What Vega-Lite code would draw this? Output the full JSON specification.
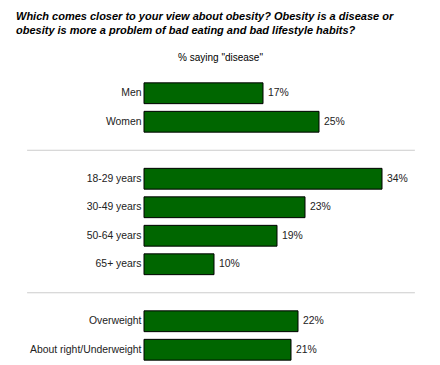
{
  "$schema": "https://vega.github.io/schema/vega-lite/v6.json",
  "width": 273,
  "height": 285,
  "autosize": {"type": "none"},
  "padding": {"left": 144, "top": 79, "right": 23, "bottom": 1},
  "background": "white",
  "config": {
    "view": {"stroke": null},
    "font": "Liberation Sans",
    "text": {"font": "Liberation Sans"}
  },
  "title": {
    "text": ["Which comes closer to your view about obesity? Obesity is a disease or", "obesity is more a problem of bad eating and bad lifestyle habits?"],
    "anchor": "start",
    "frame": "group",
    "dx": -128,
    "offset": 16,
    "font": "Liberation Sans",
    "fontSize": 11,
    "fontWeight": "bold",
    "fontStyle": "italic",
    "color": "#000000",
    "lineHeight": 14
  },
  "datasets": {
    "bars": [
      {"group": "Men", "pct": 17},
      {"group": "Women", "pct": 25},
      {"group": "18-29 years", "pct": 34},
      {"group": "30-49 years", "pct": 23},
      {"group": "50-64 years", "pct": 19},
      {"group": "65+ years", "pct": 10},
      {"group": "Overweight", "pct": 22},
      {"group": "About right/Underweight", "pct": 21}
    ],
    "seps": [
      {"group": "gap1"},
      {"group": "gap2"}
    ]
  },
  "layer": [
    {
      "data": {"name": "seps"},
      "mark": {"type": "rule", "color": "#cccccc", "strokeWidth": 1},
      "encoding": {
        "y": {"field": "group", "type": "nominal", "bandPosition": 0.5},
        "x": {"datum": -16.7, "type": "quantitative"},
        "x2": {"datum": 38.7}
      }
    },
    {
      "data": {"name": "bars"},
      "mark": {"type": "bar", "color": "#006600", "stroke": "#000000", "strokeWidth": 1},
      "encoding": {
        "y": {
          "field": "group",
          "type": "nominal",
          "sort": null,
          "scale": {
            "domain": ["Men", "Women", "gap1", "18-29 years", "30-49 years", "50-64 years", "65+ years", "gap2", "Overweight", "About right/Underweight"],
            "paddingInner": 0.27,
            "paddingOuter": 0.135
          },
          "axis": {
            "title": null,
            "domain": false,
            "ticks": false,
            "labelPadding": 3,
            "labelFontSize": 10.4,
            "labelColor": "#222222",
            "labelFont": "Liberation Sans",
            "labelExpr": "indexof(datum.value, 'gap') == 0 ? '' : datum.value"
          }
        },
        "x": {
          "field": "pct",
          "type": "quantitative",
          "scale": {"domain": [0, 39], "nice": false},
          "axis": {
            "orient": "top",
            "labels": false,
            "ticks": false,
            "domain": false,
            "grid": false,
            "title": "% saying \"disease\"",
            "titleX": 76,
            "titleAlign": "center",
            "titlePadding": 17,
            "titleFont": "Liberation Sans",
            "titleFontSize": 10,
            "titleFontWeight": "normal",
            "titleColor": "#000000"
          }
        }
      }
    },
    {
      "data": {"name": "bars"},
      "transform": [{"calculate": "datum.pct + '%'", "as": "label"}],
      "mark": {"type": "text", "align": "left", "baseline": "middle", "dx": 5, "fontSize": 10.4, "color": "#222222", "font": "Liberation Sans"},
      "encoding": {
        "y": {"field": "group", "type": "nominal", "bandPosition": 0.5},
        "x": {"field": "pct", "type": "quantitative"},
        "text": {"field": "label", "type": "nominal"}
      }
    }
  ]
}
